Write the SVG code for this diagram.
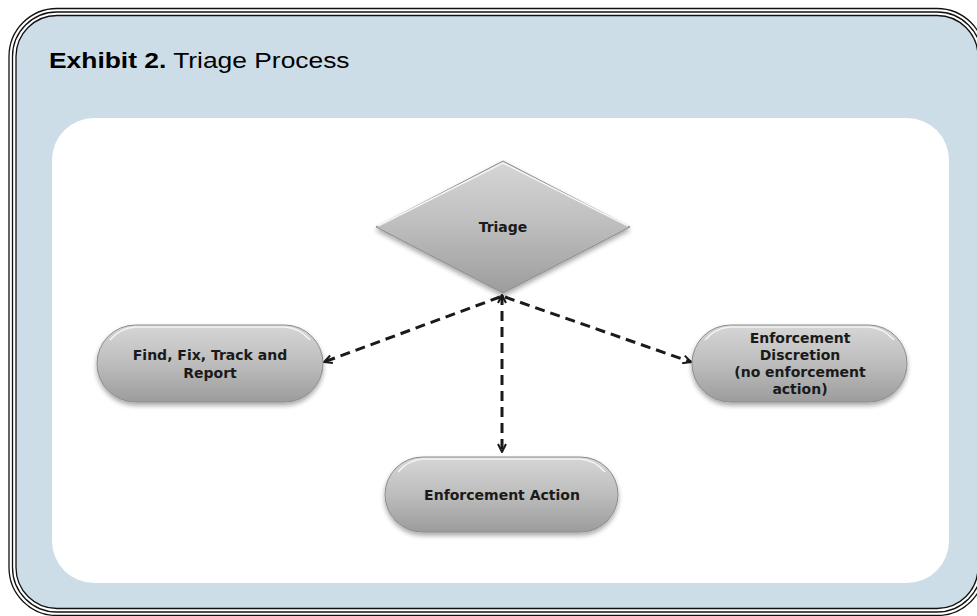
<svg xmlns="http://www.w3.org/2000/svg" width="977" height="616" viewBox="0 0 977 616">
  <style>
    .frame { fill: none; stroke: #111; stroke-width: 1.3; }
    .node-text { font-family: "DejaVu Sans", Verdana, sans-serif; font-weight: bold; font-size: 14px; fill: #1a1a1a; text-anchor: middle; }
    .title { font-family: "Liberation Sans", Arial, sans-serif; font-size: 22px; fill: #000; }
    .conn { fill: none; stroke: #1a1a1a; stroke-width: 3; stroke-dasharray: 10 6; }
    .shape { fill: url(#gray); stroke: #8c8c8c; stroke-width: 1; filter: url(#shadow); }
    .hl { fill: none; stroke: #f4f4f4; stroke-width: 1.5; }
  </style>
  <defs>
    <linearGradient id="gray" x1="0" y1="0" x2="0" y2="1">
      <stop offset="0" stop-color="#d6d6d6"/>
      <stop offset="0.5" stop-color="#bdbdbd"/>
      <stop offset="1" stop-color="#9c9c9c"/>
    </linearGradient>
    <filter id="shadow" x="-20%" y="-20%" width="140%" height="150%">
      <feGaussianBlur in="SourceAlpha" stdDeviation="2.5"/>
      <feOffset dx="0" dy="3" result="b"/>
      <feComponentTransfer><feFuncA type="linear" slope="0.35"/></feComponentTransfer>
      <feMerge><feMergeNode/><feMergeNode in="SourceGraphic"/></feMerge>
    </filter>
    <marker id="arrow" viewBox="0 0 10 10" refX="9" refY="5" markerWidth="10" markerHeight="10" markerUnits="userSpaceOnUse" orient="auto-start-reverse">
      <path d="M1,1 L9,5 L1,9" fill="none" stroke="#1a1a1a" stroke-width="2"/>
    </marker>
  </defs>

  <rect width="977" height="616" fill="#ffffff"/>

  <g id="frame">
    <rect x="16" y="15.5" width="962" height="593" rx="41" fill="#cddde7"/>
    <rect class="frame" x="9" y="8.5" width="976" height="607" rx="48"/>
    <rect class="frame" x="12.5" y="12" width="969" height="600" rx="44.5"/>
    <rect class="frame" x="16" y="15.5" width="962" height="593" rx="41"/>
    <rect x="52" y="118" width="897" height="465" rx="42" fill="#ffffff"/>
  </g>

  <g id="title" transform="translate(49,68) scale(1.2,1)">
    <text class="title" x="0" y="0"><tspan font-weight="bold">Exhibit 2.</tspan> Triage Process</text>
  </g>

  <g id="connectors">
    <line class="conn" x1="500" y1="297" x2="324" y2="362" marker-end="url(#arrow)"/>
    <line class="conn" x1="505" y1="297" x2="691" y2="362" marker-end="url(#arrow)"/>
    <line class="conn" x1="502" y1="295" x2="502" y2="452" marker-start="url(#arrow)" marker-end="url(#arrow)"/>
  </g>

  <g id="triage">
    <polygon class="shape" points="503,161 630,227 503,293 376,227"/>
    <polyline class="hl" points="378,226 503,163 628,226"/>
    <text class="node-text" x="503" y="232">Triage</text>
  </g>

  <g id="find-fix">
    <rect class="shape" x="97" y="325" width="226" height="77" rx="38.5"/>
    <path class="hl" d="M110,340 A37,37 0 0 1 135,327 L285,327 A37,37 0 0 1 310,340"/>
    <text class="node-text" x="210" y="360">Find, Fix, Track and</text>
    <text class="node-text" x="210" y="378">Report</text>
  </g>

  <g id="discretion">
    <rect class="shape" x="692" y="325" width="215" height="77" rx="38.5"/>
    <path class="hl" d="M705,340 A37,37 0 0 1 730,327 L869,327 A37,37 0 0 1 894,340"/>
    <text class="node-text" x="800" y="343">Enforcement</text>
    <text class="node-text" x="800" y="360">Discretion</text>
    <text class="node-text" x="800" y="377">(no enforcement</text>
    <text class="node-text" x="800" y="394">action)</text>
  </g>

  <g id="action">
    <rect class="shape" x="385" y="457" width="233" height="75" rx="37.5"/>
    <path class="hl" d="M398,472 A36,36 0 0 1 423,459 L580,459 A36,36 0 0 1 605,472"/>
    <text class="node-text" x="502" y="500">Enforcement Action</text>
  </g>
</svg>
